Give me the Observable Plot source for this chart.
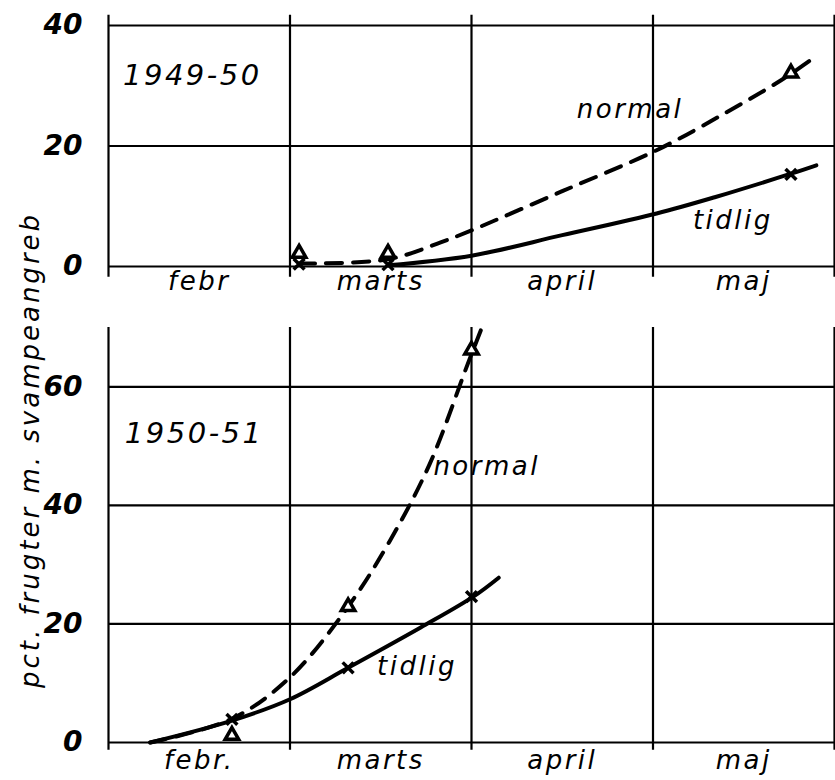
<!DOCTYPE html>
<html>
<head>
<meta charset="utf-8">
<script src="https://cdn.jsdelivr.net/npm/d3@7"></script>
<script src="https://cdn.jsdelivr.net/npm/@observablehq/plot@0.6"></script>
<style>
  html, body { margin: 0; padding: 0; background: #fff; }
  #wrap { position: relative; width: 835px; height: 780px; }
  #wrap svg { display: block; overflow: visible; }
  #wrap svg text { letter-spacing: 2.5px; }
  #wrap [aria-label="y-axis tick label"] text { letter-spacing: 0px; }
  #ylab {
    position: absolute; left: 30px; top: 450px;
    transform: translate(-50%, -50%) rotate(-90deg);
    white-space: nowrap;
    font-family: "DejaVu Sans", sans-serif; font-style: italic;
    font-size: 26px; letter-spacing: 3px; color: #000;
  }
</style>
</head>
<body>
<div id="wrap"><div id="ylab">pct. frugter m. svampeangreb</div></div>
<script>
// ---- categories / tick labels ----
const monthsTop = ["febr", "marts", "april", "maj"];
const monthsBottom = ["febr.", "marts", "april", "maj"];
const ticksTop = [0, 20, 40];
const ticksBottom = [0, 20, 40, 60];
const monthBounds = [0, 1, 2, 3, 4];

// ---- 1949-50 (x in months from 1 Feb) ----
const obsX4950 = [1.05, 1.54, 3.76];
const normal4950 = [2.2, 2.2, 32.1];
const tidlig4950 = [0.4, 0.3, 15.3];
const normalCurveX4950 = [1.05, 1.54, 1.83, 2.0, 2.5, 3.02, 3.4, 3.71, 3.88];
const normalCurveY4950 = [0.5, 1.2, 4.0, 6.0, 12.5, 19.3, 25.5, 31.0, 34.5];
const tidligCurveX4950 = [1.54, 2.0, 2.5, 3.02, 3.34, 3.76, 3.9];
const tidligCurveY4950 = [0.2, 1.8, 5.2, 8.8, 11.5, 15.4, 16.8];

// ---- 1950-51 ----
const obsX5051 = [0.68, 1.32, 2.0];
const normal5051 = [1.2, 22.9, 66.2];
const tidlig5051 = [3.9, 12.6, 24.6];
const normalCurveX5051 = [0.23, 0.68, 1.0, 1.32, 1.55, 1.77, 1.98, 2.07];
const normalCurveY5051 = [0, 4.0, 11.0, 22.9, 34.0, 47.0, 63.9, 71.0];
const tidligCurveX5051 = [0.23, 0.68, 1.0, 1.32, 1.72, 2.01, 2.15];
const tidligCurveY5051 = [0, 3.7, 7.3, 12.6, 19.4, 24.6, 27.8];

// ---- annotations ----
const labelsTop = [
  {text: "1949-50", x: 0.08, y: 31.7, size: 29},
  {text: "normal", x: 2.58, y: 26.0, size: 26},
  {text: "tidlig", x: 3.22, y: 7.6, size: 26}
];
const labelsBottom = [
  {text: "1950-51", x: 0.09, y: 52.1, size: 29},
  {text: "normal", x: 1.79, y: 46.5, size: 26},
  {text: "tidlig", x: 1.48, y: 12.8, size: 26}
];

const zip = (xs, ys) => xs.map((x, i) => ({x, y: ys[i]}));
const FONT = "DejaVu Sans, sans-serif";

function panel({height, marginTop, marginBottom, yMax, yTicks, months, ruleY1, ruleY2,
                nCurve, tCurve, nPts, tPts, labels, tickPad}) {
  return Plot.plot({
    width: 835, height, marginLeft: 108, marginRight: 1, marginTop, marginBottom,
    x: {domain: [0, 4]},
    y: {domain: [0, yMax]},
    style: {fontFamily: FONT, fontStyle: "italic", color: "#000", background: "#fff", overflow: "visible"},
    marks: [
      Plot.ruleY(yTicks, {x1: 0, x2: 4, stroke: "#000", strokeWidth: 2.2}),
      Plot.ruleX(monthBounds, {y1: ruleY1, y2: ruleY2, stroke: "#000", strokeWidth: 2.2}),
      Plot.line(nCurve, {x: "x", y: "y", curve: "catmull-rom", stroke: "#000", strokeWidth: 4,
        strokeDasharray: "16,11", strokeLinecap: "round"}),
      Plot.line(tCurve, {x: "x", y: "y", curve: "catmull-rom", stroke: "#000", strokeWidth: 4, strokeLinecap: "round"}),
      Plot.dot(nPts, {x: "x", y: "y", symbol: "triangle", r: 5, stroke: "#000", strokeWidth: 3.5, fill: "#fff"}),
      Plot.dot(tPts, {x: "x", y: "y", symbol: "times", r: 5, stroke: "#000", strokeWidth: 3.5}),
      Plot.text(labels, {x: "x", y: "y", text: "text", fontSize: d => d.size, textAnchor: "start", lineAnchor: "middle", fill: "#000"}),
      Plot.axisY(yTicks, {tickSize: 0, tickPadding: 26, label: null, fontSize: 28, fontWeight: "bold"}),
      Plot.axisX([0.5, 1.5, 2.5, 3.5], {tickSize: 0, tickPadding: tickPad, label: null, fontSize: 26,
        tickFormat: v => months[Math.floor(v)]})
    ]
  });
}

const wrap = document.getElementById("wrap");
wrap.appendChild(panel({
  height: 300, marginTop: 25, marginBottom: 34, yMax: 40, yTicks: ticksTop, months: monthsTop,
  ruleY1: -1.8, ruleY2: 41.7,
  nCurve: zip(normalCurveX4950, normalCurveY4950), tCurve: zip(tidligCurveX4950, tidligCurveY4950),
  nPts: zip(obsX4950, normal4950), tPts: zip(obsX4950, tidlig4950), labels: labelsTop, tickPad: 5
}));
wrap.appendChild(panel({
  height: 480, marginTop: 27, marginBottom: 38, yMax: 70, yTicks: ticksBottom, months: monthsBottom,
  ruleY1: -1.3, ruleY2: 70,
  nCurve: zip(normalCurveX5051, normalCurveY5051), tCurve: zip(tidligCurveX5051, tidligCurveY5051),
  nPts: zip(obsX5051, normal5051), tPts: zip(obsX5051, tidlig5051), labels: labelsBottom, tickPad: 8
}));
</script>
</body>
</html>
